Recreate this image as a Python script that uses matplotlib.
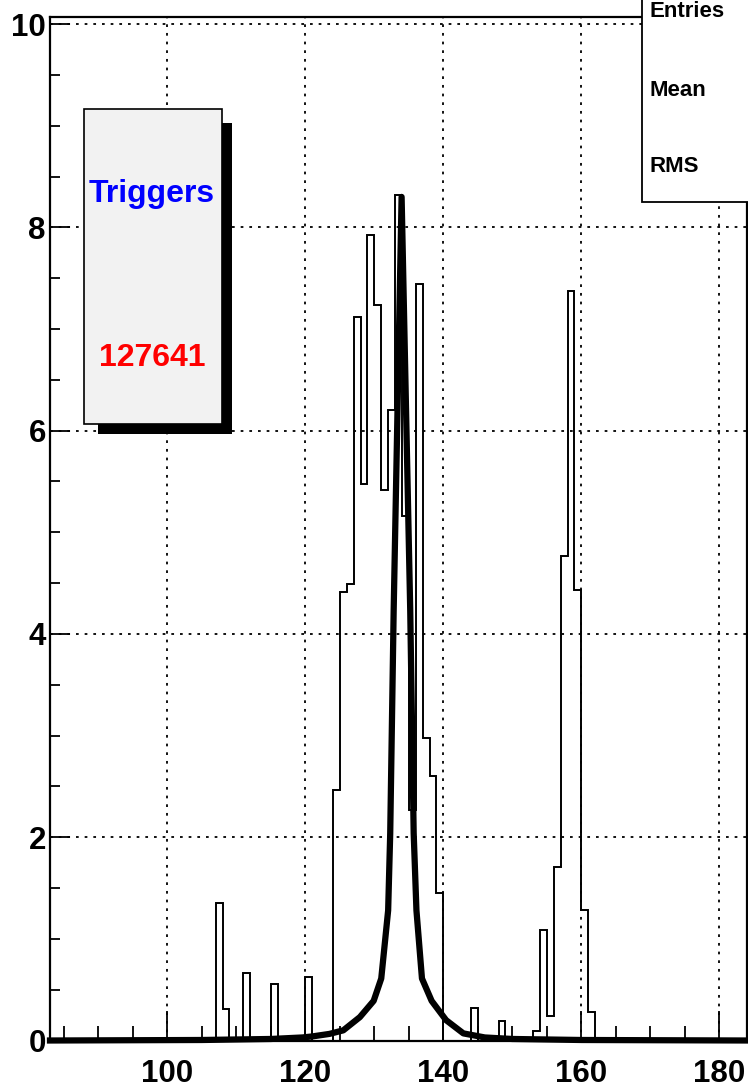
import matplotlib
matplotlib.use("Agg")
import matplotlib.pyplot as plt
from matplotlib.patches import Rectangle
import numpy as np

plt.rcParams['font.family'] = ['Liberation Sans', 'DejaVu Sans']

# histogram: 1-unit bins from 83 to 184, only the filled ones listed
x_lo, x_hi = 83, 184
bin_lo = [107, 108, 111, 115, 120,
          124, 125, 126, 127, 128, 129, 130, 131, 132, 133, 134, 135, 136, 137, 138, 139,
          144, 148,
          153, 154, 155, 156, 157, 158, 159, 160, 161]
bin_val = [1.35, 0.31, 0.66, 0.56, 0.62,
           2.46, 4.41, 4.49, 7.12, 5.48, 7.93, 7.24, 5.42, 6.20, 8.32, 5.16, 2.27, 7.44, 2.98, 2.60, 1.45,
           0.32, 0.19,
           0.09, 1.09, 0.24, 1.71, 4.77, 7.37, 4.43, 1.28, 0.28]

# fitted curve, vertices
fit_x = [83, 105, 115, 119.6, 121.0, 123.5, 125.5, 127.9, 129.9, 131.0, 132.0, 132.3, 132.8,
         133.95, 135.2, 135.7, 136.1, 136.9, 138.3, 140.4, 142.9, 146, 150, 160, 184]
fit_y = [0, 0.005, 0.015, 0.03, 0.04, 0.065, 0.10, 0.23, 0.39, 0.61, 1.28, 2.04, 4.23,
         8.30, 4.23, 2.04, 1.28, 0.61, 0.39, 0.20, 0.07, 0.03, 0.015, 0.005, 0]

x_major = [100, 120, 140, 160, 180]
y_major = [0, 2, 4, 6, 8, 10]

pave_title = "Triggers"
pave_value = "127641"
stats_rows = ["Entries", "Mean", "RMS"]

W, H = 748, 1090


def fx(px):
    return px / W


def fy(py):
    return 1 - py / H


edges = np.arange(x_lo, x_hi + 1)
counts = np.zeros(len(edges) - 1)
for lo, v in zip(bin_lo, bin_val):
    counts[lo - x_lo] = v

fig = plt.figure(figsize=(W / 100, H / 100), dpi=100)
ax = fig.add_axes([fx(50), fy(1040.5), (747 - 50) / W, (1040.5 - 17) / H])

ax.stairs(counts, edges, color='black', linewidth=1.4, zorder=3)
ax.plot(fit_x, fit_y, color='black', linewidth=4.5, solid_joinstyle='round',
        zorder=4, clip_on=False)

ax.set_xlim(x_lo, x_hi)
ax.set_ylim(0, 10.07)
ax.set_xticks(x_major)
ax.set_xticks(np.arange(85, 184, 5), minor=True)
ax.set_yticks(y_major)
ax.set_yticks(np.arange(0, 10.01, 0.5), minor=True)
ax.set_xticklabels([str(v) for v in x_major], fontsize=22.5, fontweight='bold')
ax.set_yticklabels([str(v) for v in y_major], fontsize=22.5, fontweight='bold')

ax.tick_params(axis='x', which='major', direction='in', length=21.6, width=1.3, pad=13)
ax.tick_params(axis='x', which='minor', direction='in', length=10.8, width=1.3)
ax.tick_params(axis='y', which='major', direction='in', length=14.4, width=1.3, pad=3)
ax.tick_params(axis='y', which='minor', direction='in', length=7.2, width=1.3)

ax.grid(True, which='major', color='black', linestyle=(0, (1.5, 3.3)), linewidth=1.3)
ax.set_axisbelow(True)
for s in ax.spines.values():
    s.set_linewidth(1.6)

# TPaveText with shadow
fig.add_artist(Rectangle((fx(98.3), fy(434.3)), (231.7 - 98.3) / W, (434.3 - 122.7) / H,
                         transform=fig.transFigure, facecolor='black', edgecolor='none', zorder=5))
fig.add_artist(Rectangle((fx(84.3), fy(424.3)), (222.3 - 84.3) / W, (424.3 - 109) / H,
                         transform=fig.transFigure, facecolor='#f2f2f2', edgecolor='black',
                         linewidth=1.2, zorder=6))
fig.text(fx(152), fy(201.7), pave_title, color='#0000ff', fontsize=23, fontweight='bold',
         ha='center', va='baseline', zorder=7)
fig.text(fx(152), fy(365.7), pave_value, color='#ff0000', fontsize=23, fontweight='bold',
         ha='center', va='baseline', zorder=7)

# stats box, cut by the canvas
fig.add_artist(Rectangle((fx(641.5), fy(201.7)), (770 - 641.5) / W, (201.7 + 30) / H,
                         transform=fig.transFigure, facecolor='white', edgecolor='black',
                         linewidth=1.3, zorder=5))
for row, base in zip(stats_rows, [16.7, 95.7, 172.3]):
    fig.text(fx(649.5), fy(base), row, fontsize=16, fontweight='bold',
             ha='left', va='baseline', zorder=7)

fig.savefig('out.png', dpi=100)
